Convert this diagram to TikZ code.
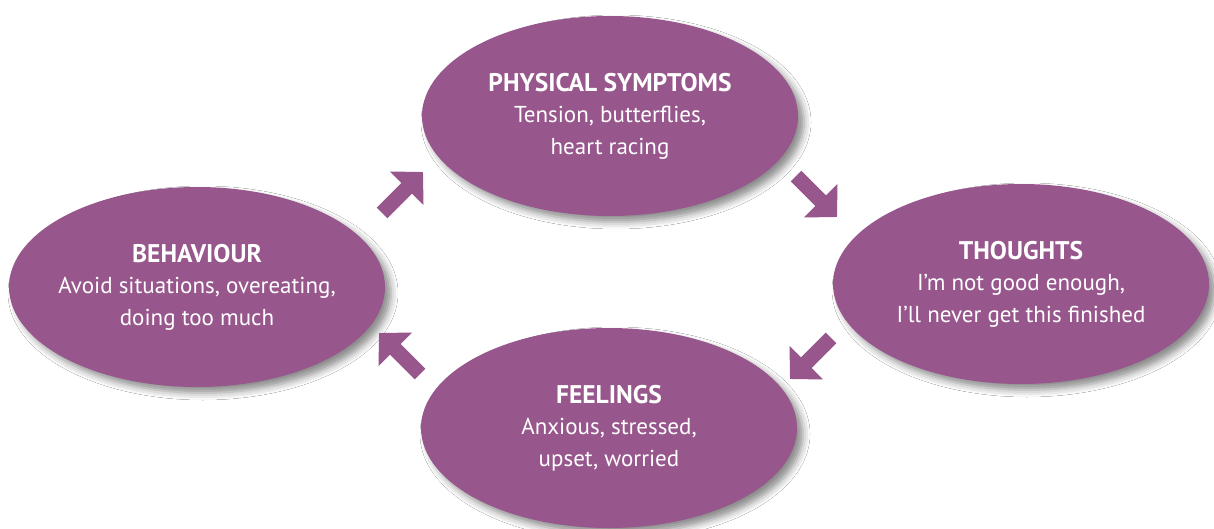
\documentclass[tikz,border=0pt]{standalone}
\usepackage{fontspec}
\setmainfont{PT Sans}
\usetikzlibrary{arrows.meta,shapes.geometric,shadows.blur}
\definecolor{plum}{RGB}{152,87,140}
\newcommand{\stagetitle}[1]{{\fontsize{25.5}{31.5}\selectfont\bfseries #1}}
\tikzset{
  bubble/.style={ellipse, fill=plum, minimum width=376pt, minimum height=200pt,
    inner sep=0pt,
    blur shadow={shadow xshift=6pt, shadow yshift=-6pt, shadow blur radius=7pt,
      shadow opacity=45}},
  stagetext/.style={text=white, align=center, inner sep=0pt,
    font=\fontsize{23}{31.5}\selectfont},
  cyclearrow/.style={draw=plum, line width=15pt,
    -{Triangle[length=23pt,width=46pt]}},
}
\begin{document}
\begin{tikzpicture}[x=1pt,y=-1pt]
  \useasboundingbox (0,0) rectangle (1214,529);
  \fill[white] (0,0) rectangle (1214,529);

  % the four stages of the cycle
  \node[bubble] (phys) at (610,116) {};
  \node[bubble] (thoughts) at (1021,284) {};
  \node[bubble] (feel) at (609,428) {};
  \node[bubble] (behav) at (197,287) {};

  \node[stagetext] (physT) at (phys)
    {\stagetitle{PHYSICAL SYMPTOMS}\\Tension, butterflies,\\heart racing};
  \node[stagetext] (thoughtsT) at (thoughts)
    {\stagetitle{THOUGHTS}\\I’m not good enough,\\I’ll never get this finished};
  \node[stagetext] (feelT) at (feel)
    {\stagetitle{FEELINGS}\\Anxious, stressed,\\upset, worried};
  \node[stagetext] (behavT) at (behav)
    {\stagetitle{BEHAVIOUR}\\Avoid situations, overeating,\\doing too much};

  % arrow end points between neighbouring stages
  \coordinate (a1s) at (382,213);  \coordinate (a1e) at (423,172);
  \coordinate (a2s) at (796,176);  \coordinate (a2e) at (837,217);
  \coordinate (a3s) at (831,338);  \coordinate (a3e) at (790,379);
  \coordinate (a4s) at (420,374);  \coordinate (a4e) at (379,333);

  \draw[cyclearrow] (a1s) -- (a1e);
  \draw[cyclearrow] (a2s) -- (a2e);
  \draw[cyclearrow] (a3s) -- (a3e);
  \draw[cyclearrow] (a4s) -- (a4e);
\end{tikzpicture}
\end{document}
